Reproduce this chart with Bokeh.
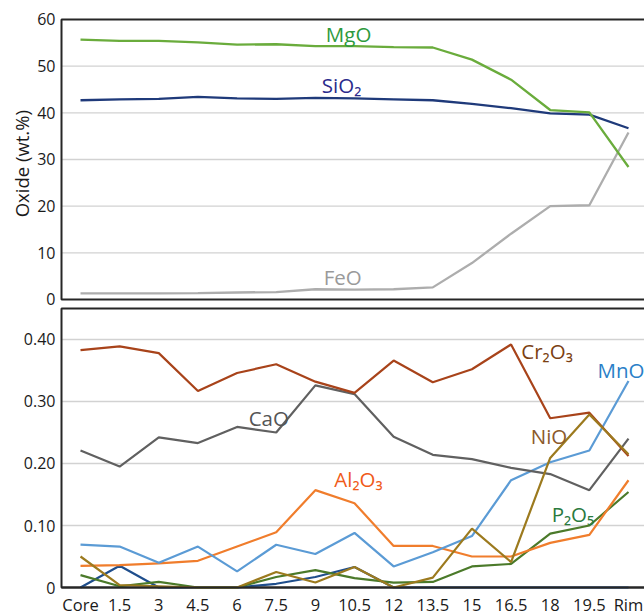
import math
from bokeh.plotting import figure
from bokeh.models import Range1d, LinearAxis, FixedTicker, ColumnDataSource
from bokeh.core.properties import value
from bokeh.embed import file_html
from bokeh.resources import INLINE

# ---------------- data ----------------
categories = ["Core", "1.5", "3", "4.5", "6", "7.5", "9", "10.5", "12", "13.5",
              "15", "16.5", "18", "19.5", "Rim"]

mgo = [55.7, 55.4, 55.4, 55.1, 54.6, 54.7, 54.3, 54.3, 54.1, 54.0, 51.4, 47.1, 40.6, 40.1, 28.4]
sio2 = [42.7, 42.9, 43.0, 43.4, 43.1, 43.0, 43.2, 43.1, 42.9, 42.7, 41.9, 41.0, 39.9, 39.6, 36.7]
feo = [1.3, 1.3, 1.3, 1.35, 1.5, 1.6, 2.2, 2.1, 2.2, 2.6, 7.8, 14.1, 20.0, 20.2, 35.8]

cr2o3 = [0.383, 0.389, 0.378, 0.317, 0.346, 0.360, 0.332, 0.314, 0.366, 0.331, 0.352, 0.392, 0.273, 0.282, 0.212]
cao = [0.221, 0.195, 0.242, 0.233, 0.259, 0.250, 0.326, 0.312, 0.243, 0.214, 0.207, 0.193, 0.183, 0.157, 0.240]
mno = [0.069, 0.066, 0.040, 0.066, 0.026, 0.069, 0.054, 0.088, 0.034, 0.057, 0.083, 0.173, 0.202, 0.221, 0.333]
al2o3 = [0.035, 0.036, 0.039, 0.043, 0.066, 0.089, 0.157, 0.136, 0.067, 0.067, 0.050, 0.050, 0.072, 0.085, 0.173]
nio = [0.050, 0.004, 0.002, 0.0, 0.0, 0.025, 0.008, 0.033, 0.0, 0.016, 0.095, 0.041, 0.209, 0.279, 0.215]
p2o5 = [0.020, 0.002, 0.009, 0.0, 0.0, 0.017, 0.028, 0.015, 0.008, 0.009, 0.034, 0.038, 0.087, 0.100, 0.154]
other = [0.0, 0.035, 0.0, 0.0, 0.0, 0.006, 0.017, 0.033, 0.0, 0.0, 0.0, 0.0, 0.0, 0.0, 0.0]

top_ticks = [0, 10, 20, 30, 40, 50, 60]
top_tick_labels = ["0", "10", "20", "30", "40", "50", "60"]
bottom_ticks = [0, 0.1, 0.2, 0.3, 0.4]
bottom_tick_labels = ["0", "0.10", "0.20", "0.30", "0.40"]
top_max = 60
bottom_max = 0.45

x = list(range(len(categories)))

FONT = "Open Sans"
FRAME = "#262626"
GRID = "#d2d2d2"

# ---------------- layout: one full-canvas frame holding two stacked panels ----------------
top_range = Range1d(-67.714, 64.071)      # upper panel (wt.%)
bot_range = Range1d(-0.04516, 0.94677)    # lower panel (wt.%)
x_range = Range1d(-2.044, 14.409)
box_left = -0.4854
box_right = x_range.end + 1

p = figure(width=644, height=615, x_range=x_range, y_range=bot_range,
           output_backend="svg", toolbar_location=None, x_axis_type=None, y_axis_type=None,
           min_border_left=0, min_border_right=0, min_border_top=0, min_border_bottom=0)
p.extra_y_ranges = {"top": top_range}
p.outline_line_color = None


def to_top(v):
    s = (top_range.end - top_range.start) / (bot_range.end - bot_range.start)
    return round(top_range.start + (v - bot_range.start) * s, 6)


# left axis (at the panels' left edge): tick labels of both panels
left_ticks = list(top_ticks) + [to_top(v) for v in bottom_ticks]
left_labels = list(top_tick_labels) + list(bottom_tick_labels)
ya = LinearAxis(y_range_name="top", ticker=FixedTicker(ticks=left_ticks),
                major_label_overrides=dict(zip(left_ticks, left_labels)),
                fixed_location=box_left)
ya.axis_line_color = None
ya.major_tick_out = 0
ya.major_tick_in = 0
ya.minor_tick_out = 0
ya.minor_tick_in = 0
ya.major_label_text_font = FONT
ya.major_label_text_font_size = "16px"
ya.major_label_text_color = "#1a1a1a"
ya.major_label_standoff = 6
p.add_layout(ya, "left")

# bottom category axis (at the lower panel's zero line)
xa = LinearAxis(ticker=FixedTicker(ticks=x), major_label_overrides=dict(zip(x, categories)),
                bounds=(box_left, box_right), fixed_location=0)
xa.axis_line_color = FRAME
xa.axis_line_width = 2
xa.major_tick_out = 0
xa.major_tick_in = 0
xa.minor_tick_out = 0
xa.minor_tick_in = 0
xa.major_label_text_font = FONT
xa.major_label_text_font_size = "16.5px"
xa.major_label_text_color = "#1a1a1a"
xa.major_label_standoff = 5
p.add_layout(xa, "below")

# horizontal grid lines inside the two panels
gt = top_ticks[1:-1]
p.segment(x0=[box_left] * len(gt), x1=[box_right] * len(gt), y0=gt, y1=gt, y_range_name="top",
          line_color=GRID, line_width=1.3)
gb = bottom_ticks[1:]
p.segment(x0=[box_left] * len(gb), x1=[box_right] * len(gb), y0=gb, y1=gb,
          line_color=GRID, line_width=1.3)

# panel boxes
p.quad(left=[box_left], right=[box_right], bottom=[0], top=[top_max], y_range_name="top",
       fill_color=None, line_color=FRAME, line_width=2)
p.quad(left=[box_left], right=[box_right], bottom=[0], top=[bottom_max],
       fill_color=None, line_color=FRAME, line_width=2)

# y-axis title of the upper panel
p.text(x=[-1.495], y=[29.1], text=["Oxide (wt.%)"], angle=math.pi / 2, y_range_name="top",
       text_font=value(FONT), text_font_size="18.5px", text_align="center",
       text_baseline="middle", text_color="#1a1a1a")

# upper panel lines
src1 = ColumnDataSource(dict(x=x, mgo=mgo, sio2=sio2, feo=feo))
p.line("x", "feo", source=src1, y_range_name="top", line_color="#adadad", line_width=2.3)
p.line("x", "sio2", source=src1, y_range_name="top", line_color="#1f3a7a", line_width=2.3)
p.line("x", "mgo", source=src1, y_range_name="top", line_color="#6aac3c", line_width=2.3)

lab_kw = dict(text_font=value(FONT), text_font_size="20.5px", text_align="center",
              text_baseline="middle")
p.text(x=[6.85], y=[56.8], text=["MgO"], text_color="#2e9a3e", y_range_name="top", **lab_kw)
p.text(x=[6.67], y=[46.0], text=["SiO₂"], text_color="#2b2b8c", y_range_name="top", **lab_kw)
p.text(x=[6.7], y=[4.9], text=["FeO"], text_color="#9a9a9a", y_range_name="top", **lab_kw)

# lower panel lines
src2 = ColumnDataSource(dict(x=x, cr2o3=cr2o3, cao=cao, mno=mno, al2o3=al2o3,
                             nio=nio, p2o5=p2o5, other=other))
lw = 2.2
p.line("x", "other", source=src2, line_color="#1f4e8c", line_width=lw)
p.line("x", "p2o5", source=src2, line_color="#4b7a2a", line_width=lw)
p.line("x", "al2o3", source=src2, line_color="#f07d2c", line_width=lw)
p.line("x", "mno", source=src2, line_color="#5b9bd5", line_width=lw)
p.line("x", "cao", source=src2, line_color="#606060", line_width=lw)
p.line("x", "cr2o3", source=src2, line_color="#a8431a", line_width=lw)
p.line("x", "nio", source=src2, line_color="#9c7a1e", line_width=lw)

p.text(x=[11.92], y=[0.382], text=["Cr₂O₃"], text_color="#7b3f12", **lab_kw)
p.text(x=[13.21], y=[0.351], text=["MnO"], text_color="#2a7fc8",
       text_font=value(FONT), text_font_size="20.5px", text_align="left", text_baseline="middle")
p.text(x=[4.81], y=[0.273], text=["CaO"], text_color="#555555", **lab_kw)
p.text(x=[11.97], y=[0.244], text=["NiO"], text_color="#8b5a2b", **lab_kw)
p.text(x=[7.1], y=[0.1745], text=["Al₂O₃"], text_color="#f05a1a", **lab_kw)
p.text(x=[12.58], y=[0.119], text=["P₂O₅"], text_color="#2a7a3e", **lab_kw)

open("out.html", "w").write(file_html(p, INLINE))
